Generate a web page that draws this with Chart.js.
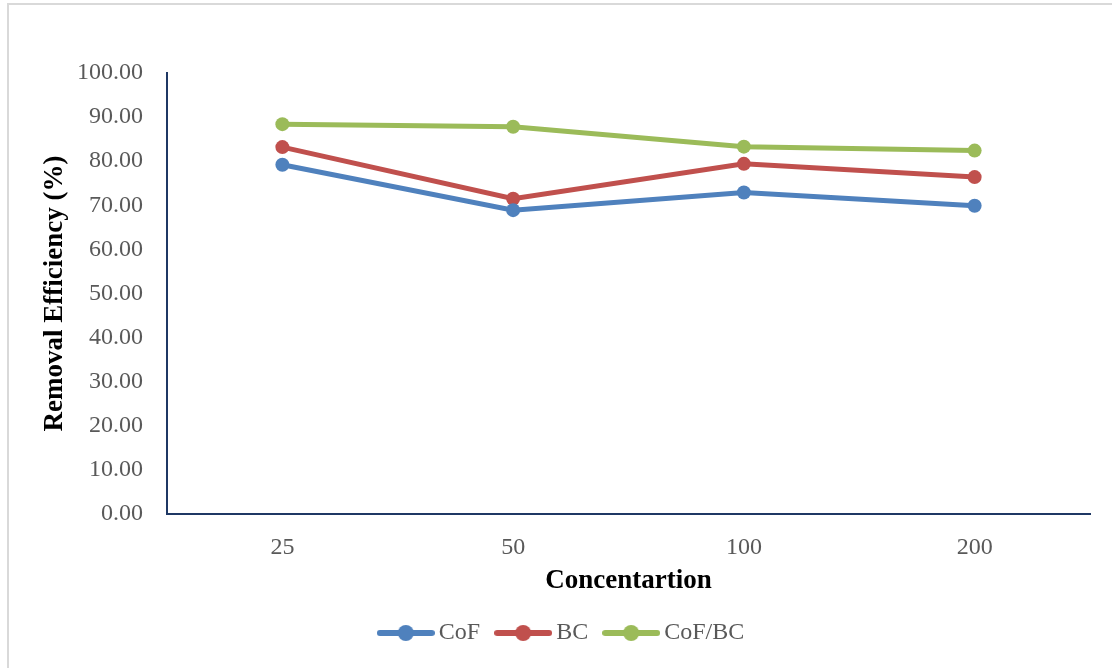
<!DOCTYPE html>
<html>
<head>
<meta charset="utf-8">
<script src="https://cdn.jsdelivr.net/npm/chart.js@4"></script>
<style>
  html, body { margin: 0; padding: 0; background: #fff; }
  #wrap { width: 1112px; height: 668px; }
</style>
</head>
<body>
<div id="wrap"><canvas id="myChart" width="1112" height="668"></canvas></div>
<script>
var concentrations = ['25', '50', '100', '200'];
var cof = [79.2, 68.9, 72.9, 69.9];
var bc = [83.2, 71.5, 79.4, 76.4];
var cofBc = [88.4, 87.8, 83.3, 82.4];

var blue = '#4F81BD', red = '#C0504D', green = '#9BBB59';

// little line-with-dot image for the legend
function legendMark(color) {
  var c = document.createElement('canvas');
  c.width = 58; c.height = 18;
  var g = c.getContext('2d');
  g.strokeStyle = color;
  g.lineWidth = 6;
  g.lineCap = 'round';
  g.beginPath(); g.moveTo(3, 9); g.lineTo(55, 9); g.stroke();
  g.fillStyle = color;
  g.beginPath(); g.arc(29, 9, 8, 0, Math.PI * 2); g.fill();
  return c;
}

var frame = {
  id: 'frame',
  beforeDraw: function(chart) {
    var g = chart.ctx;
    g.save();
    g.fillStyle = '#fff';
    g.fillRect(0, 0, chart.width, chart.height);
    g.strokeStyle = '#d9d9d9';
    g.lineWidth = 2;
    g.beginPath();
    g.moveTo(8, 668); g.lineTo(8, 4); g.lineTo(1112, 4);
    g.stroke();
    g.restore();
  }
};

function series(label, data, color) {
  return {
    label: label,
    data: data,
    borderColor: color,
    backgroundColor: color,
    borderWidth: 5,
    pointRadius: 7,
    pointHoverRadius: 7,
    pointBorderWidth: 0,
    pointStyle: 'circle',
    tension: 0
  };
}

var tickFont = { family: '"Liberation Serif", serif', size: 24 };
var titleFont = { family: '"Liberation Serif", serif', size: 27, weight: 'bold' };

var ctx = document.getElementById('myChart').getContext('2d');
var myChart = new Chart(ctx, {
  type: 'line',
  data: {
    labels: concentrations,
    datasets: [
      series('CoF', cof, blue),
      series('BC', bc, red),
      series('CoF/BC', cofBc, green)
    ]
  },
  options: {
    responsive: false,
    animation: false,
    layout: { padding: { left: 39, right: 22, top: 73, bottom: 13 } },
    plugins: {
      tooltip: { enabled: false },
      legend: {
        position: 'bottom',
        labels: {
          usePointStyle: true,
          pointStyleWidth: 42,
          padding: 22,
          color: '#595959',
          font: tickFont,
          generateLabels: function(chart) {
            return chart.data.datasets.map(function(ds, i) {
              return {
                text: ds.label,
                fillStyle: ds.borderColor,
                strokeStyle: ds.borderColor,
                lineWidth: 0,
                pointStyle: legendMark(ds.borderColor),
                fontColor: '#595959',
                datasetIndex: i
              };
            });
          }
        }
      }
    },
    scales: {
      x: {
        offset: true,
        grid: { display: false, drawTicks: false },
        border: { display: true, color: '#1F3864', width: 2 },
        ticks: { color: '#595959', font: tickFont, padding: 19 },
        title: { display: true, text: 'Concentartion', color: '#000', font: titleFont, padding: { top: 0, bottom: 2 } },
        afterFit: function(scale) { scale.height = 85; }
      },
      y: {
        min: 0,
        max: 100,
        grid: { display: false, drawTicks: false },
        border: { display: true, color: '#1F3864', width: 2 },
        ticks: {
          stepSize: 10,
          color: '#595959',
          font: tickFont,
          padding: 24,
          callback: function(v) { return Number(v).toFixed(2); }
        },
        title: { display: true, text: 'Removal Efficiency (%)', color: '#000', font: titleFont, padding: 0 },
        afterFit: function(scale) { scale.width = 128; }
      }
    }
  },
  plugins: [frame]
});
</script>
</body>
</html>
